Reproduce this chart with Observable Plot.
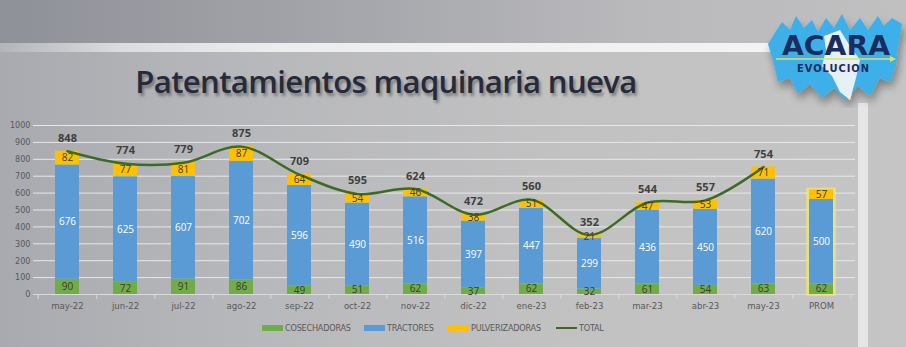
<!DOCTYPE html>
<html>
<head>
<meta charset="utf-8">
<script src="https://cdn.jsdelivr.net/npm/d3@7"></script>
<script src="https://cdn.jsdelivr.net/npm/@observablehq/plot@0.6"></script>
<style>
  html, body { margin: 0; padding: 0; width: 906px; height: 347px; overflow: hidden; }
  #page { position: relative; width: 906px; height: 347px;
    background: linear-gradient(to right, #a9aaaf 0%, #b6b7ba 25%, #c1c1c2 60%, #c5c5c5 100%); }
  #topband { position: absolute; left: 0; top: 0; width: 906px; height: 43px;
    background: linear-gradient(to right, #8f9198 0%, #a3a4a9 35%, #b9b9bc 70%, #c0c0c1 100%); }
  #whiteband { position: absolute; left: 0; top: 43px; width: 800px; height: 9px;
    background: linear-gradient(to right, #b4b5b9 0%, #dcdcde 15%, #ededee 35%, #f3f3f3 100%); }
  #strip { position: absolute; left: 858px; top: 103px; width: 10px; height: 244px; background: #e6e6e6; }
  #title { position: absolute; left: 0; width: 772px; top: 60px; text-align: center;
    font-family: "Open Sans", sans-serif; font-size: 31px; font-weight: 600; color: #262a3b;
    text-shadow: 2px 3px 3px rgba(0,0,0,0.35); letter-spacing: -0.6px; white-space: nowrap; }
  #chart { position: absolute; left: 0; top: 115px; }
  #legend { position: absolute; top: 322px; left: 0; width: 906px; height: 12px;
    font-family: "Liberation Sans Narrow", "DejaVu Sans Condensed", sans-serif; font-size: 9px; letter-spacing: -0.2px; color: #595959; }
  .li { position: absolute; top: 0; display: flex; align-items: center; height: 12px; }
  .sw { width: 21px; height: 6px; margin-right: 2px; }
  .ln { width: 21px; height: 2.5px; margin-right: 2px; background: #3d6b22; }
  #logo { position: absolute; left: 760px; top: 8px; }
</style>
</head>
<body>
<div id="page">
  <div id="topband"></div>
  <div id="whiteband"></div>
  <div id="strip"></div>
  <div id="title">Patentamientos maquinaria nueva</div>
  <div id="chart"></div>
  <div id="legend"></div>
  <svg id="logo" width="146" height="100" viewBox="0 0 146 100">
    <defs>
      <filter id="sh" x="-20%" y="-20%" width="140%" height="150%">
        <feGaussianBlur in="SourceAlpha" stdDeviation="4"/>
        <feOffset dx="2" dy="6"/>
        <feComponentTransfer><feFuncA type="linear" slope="0.35"/></feComponentTransfer>
        <feMerge><feMergeNode/><feMergeNode in="SourceGraphic"/></feMerge>
      </filter>
    </defs>
    <g filter="url(#sh)">
      <path d="M22 14 L30 22 L36 8 L44 20 L52 12 L58 24 L66 10 L74 20 L82 6 L90 22 L100 10 L108 22 L118 8 L124 18 L132 10 L142 16 L138 40 L136 58 L130 74 L120 70 L110 88 L98 78 L86 92 L74 80 L62 90 L50 76 L38 86 L30 70 L18 74 L14 56 L8 36 Z" fill="#3cb0ea"/>
      <path d="M64 28 L80 22 L90 38 L100 52 L96 70 L90 92 L80 84 L72 68 L62 58 L66 42 Z" fill="#eef4f8" opacity="0.95"/>
    </g>
    <text x="76" y="47" text-anchor="middle" font-family="DejaVu Sans" font-weight="bold" font-size="27" fill="#1b2c5e" textLength="108" lengthAdjust="spacingAndGlyphs">ACARA</text>
    <line x1="16" y1="51" x2="132" y2="51" stroke="#d8e26a" stroke-width="1.5"/>
    <path d="M130 48 L136 51 L130 54 Z" fill="#d8e26a"/>
    <text x="73" y="64" text-anchor="middle" font-family="DejaVu Sans Condensed" font-weight="bold" font-size="11" fill="#1b2c5e" textLength="72" lengthAdjust="spacing">EVOLUCION</text>
  </svg>
</div>
<script>
const months = ["may-22","jun-22","jul-22","ago-22","sep-22","oct-22","nov-22","dic-22","ene-23","feb-23","mar-23","abr-23","may-23","PROM"];
const cosechadoras = [90,72,91,86,49,51,62,37,62,32,61,54,63,62];
const tractores = [676,625,607,702,596,490,516,397,447,299,436,450,620,500];
const pulverizadoras = [82,77,81,87,64,54,46,38,51,21,47,53,71,57];
const totalMonths = months.slice(0, 13);
const total = [848,774,779,875,709,595,624,472,560,352,544,557,754];
const series = ["COSECHADORAS","TRACTORES","PULVERIZADORAS"];
const colors = ["#70ad47","#5b9bd5","#ffc000"];
const labelColors = ["#3a3a3a","#ffffff","#3a3a3a"];
const yTicks = [0,100,200,300,400,500,600,700,800,900,1000];

const long = [];
months.forEach((m, i) => {
  [cosechadoras, tractores, pulverizadoras].forEach((arr, s) => {
    long.push({month: m, series: series[s], value: arr[i]});
  });
});
const lineData = totalMonths.map((m, i) => ({month: m, total: total[i]}));
const promData = [{month: "PROM", top: cosechadoras[13] + tractores[13] + pulverizadoras[13]}];

const W = 870, ML = 33, MR = 15;
const step = (W - ML - MR) / months.length;
const font = `"Liberation Sans Narrow", "DejaVu Sans Condensed", sans-serif`;
const labelFont = `"Open Sans", sans-serif`;

const textMarks = series.map((s, k) =>
  Plot.text(long, Plot.filter(d => d.series === s, Plot.stackY({
    x: "month", y: "value", text: d => String(d.value),
    fill: labelColors[k], fontSize: 10, fontFamily: labelFont
  })))
);

const chart = Plot.plot({
  width: W, height: 205,
  marginLeft: ML, marginRight: MR, marginTop: 10, marginBottom: 26,
  style: {background: "transparent", fontFamily: font, overflow: "visible"},
  x: {domain: months, paddingInner: 0.59, paddingOuter: 0.295, label: null},
  y: {domain: [0, 1000], label: null},
  color: {domain: series, range: colors},
  marks: [
    Plot.ruleY(yTicks.filter(t => t > 0), {stroke: "#e8e8e8", strokeWidth: 1}),
    Plot.ruleY([0], {stroke: "#dadada", strokeWidth: 1}),
    Plot.ruleX(months, {x: d => d, y1: 0, y2: 0, dx: step / 2, insetBottom: -5, stroke: "#dadada"}),
    Plot.ruleX([months[0]], {x: d => d, y1: 0, y2: 0, dx: -step / 2, insetBottom: -5, stroke: "#dadada"}),
    Plot.barY(promData, {x: "month", y: "top", fill: "none", stroke: "#f4e86a", strokeWidth: 3.5, strokeOpacity: 0.75, insetLeft: -1, insetRight: -1}),
    Plot.barY(long, Plot.stackY({x: "month", y: "value", fill: "series"})),
    Plot.line(lineData, {x: "month", y: "total", stroke: "#3d6b22", strokeWidth: 2.5, curve: "catmull-rom"}),
    ...textMarks,
    Plot.text(lineData, {x: "month", y: "total", text: d => String(d.total), dy: -13, fill: "#404040", fontWeight: "bold", fontSize: 11, fontFamily: labelFont}),
    Plot.axisY({ticks: yTicks, tickFormat: d => String(d), tickSize: 0, tickPadding: 3, fontSize: 9, fill: "#595959"}),
    Plot.axisX({tickSize: 0, tickPadding: 8, fontSize: 9.5, fill: "#595959"})
  ]
});
document.getElementById("chart").appendChild(chart);

// legend
const legend = document.getElementById("legend");
const items = [
  {label: "COSECHADORAS", color: colors[0], left: 262},
  {label: "TRACTORES", color: colors[1], left: 364},
  {label: "PULVERIZADORAS", color: colors[2], left: 448},
  {label: "TOTAL", line: true, left: 556}
];
items.forEach(it => {
  const d = document.createElement("div");
  d.className = "li";
  d.style.left = it.left + "px";
  const sw = document.createElement("div");
  if (it.line) sw.className = "ln"; else { sw.className = "sw"; sw.style.background = it.color; }
  d.appendChild(sw);
  const t = document.createElement("span");
  t.textContent = it.label;
  d.appendChild(t);
  legend.appendChild(d);
});
</script>
</body>
</html>
